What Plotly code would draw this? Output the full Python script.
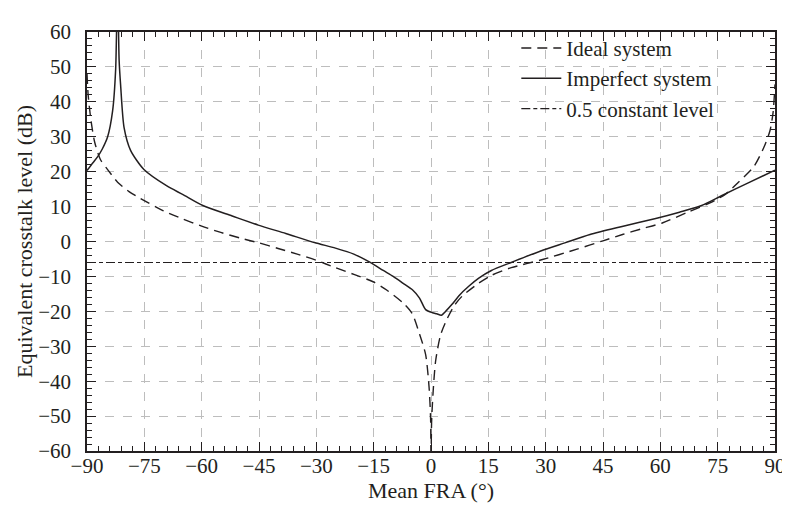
import plotly.graph_objects as go

# Ideal system (dashed)
ideal_x = [-90, -89.7, -89, -88, -86.5, -84.6, -82, -79, -76, -70, -65, -60, -55, -50, -45, -40,
           -35, -30, -25, -20, -15, -11.6, -7.3, -5, -3, -1.4, -0.5, -0.1, 0, 0.15, 0.5, 1.2, 2.5,
           4.2, 6, 8.1, 12.4, 15.8, 21, 28.7, 38.2, 45, 50.1, 55, 60.5, 67.4, 73.3, 77, 80.3, 84.5,
           87.1, 88.7, 89.5, 90]
ideal_y = [48, 42, 35, 28.5, 23.5, 20.6, 17, 14.3, 12.3, 8.8, 6.5, 4.4, 2.6, 1.0, -0.4, -2.0,
           -3.6, -5.4, -7.5, -9.5, -11.6, -13.9, -17.6, -20.5, -26.5, -32.4, -41.8, -51, -65, -52,
           -44, -34.3, -26.8, -22.2, -18.5, -15.7, -12, -9.7, -7.5, -5.3, -2.2, 0.2, 2.0, 3.6, 5.3,
           8.5, 11.2, 13.5, 16.8, 21.5, 27, 31.8, 37, 45]

# Imperfect system (solid)
imp_x = [-90, -88.5, -87.2, -86, -84.6, -83.3, -82.5, -82.0, -81.6, -81.2, -80.3, -78.6, -75.1,
         -69.1, -65, -59.7, -52, -45.2, -38, -30.5, -25, -20.2, -15.9, -12.5, -9.9, -7, -4.8, -3,
         -1.4, 0.4, 1.5, 2.7, 4, 5.5, 7.5, 9.8, 12.5, 15.8, 21, 28.7, 35, 41.6, 50, 58.8, 65, 70.8,
         76, 83, 90]
imp_y = [20.3, 22.5, 24.3, 26.5, 30, 37.4, 49.4, 75, 52, 44.7, 32.6, 26.1, 20.6, 15.9, 13.5, 10.3,
         7.3, 4.7, 2.3, -0.3, -1.9, -3.6, -6, -8.3, -10, -12.2, -13.9, -16.2, -19.5, -20.4, -20.7,
         -21.1, -19.8, -18, -15.3, -12.9, -10.5, -8.3, -6, -2.7, -0.4, 2.0, 4.3, 6.6, 8.4, 10.3,
         13.1, 16.8, 20.4]

# 0.5 constant level (dash-dot), 20*log10(0.5) dB
const_x = [-90, 90]
const_y = [-6.02, -6.02]

x_ticks = [-90, -75, -60, -45, -30, -15, 0, 15, 30, 45, 60, 75, 90]
x_ticktext = ["\u221290", "\u221275", "\u221260", "\u221245", "\u221230", "\u221215",
              "0", "15", "30", "45", "60", "75", "90"]
y_ticks = [-60, -50, -40, -30, -20, -10, 0, 10, 20, 30, 40, 50, 60]
y_ticktext = ["\u221260", "\u221250", "\u221240", "\u221230", "\u221220", "\u221210",
              "0", "10", "20", "30", "40", "50", "60"]

# minor tick positions (every 3 deg / every 2 dB)
x_minor = [v for v in range(-90, 91, 3)]
y_minor = [v for v in range(-60, 61, 2)]

ink = "#231f20"
font_family = "Liberation Serif, Times New Roman, serif"
FS = 21

fig = go.Figure()
fig.add_trace(go.Scatter(x=ideal_x, y=ideal_y, mode="lines", name="Ideal system",
                         legendgroup="a",
                         line=dict(color=ink, width=1.4, dash="10px,6px",
                                   shape="spline", smoothing=0.7)))
fig.add_trace(go.Scatter(x=imp_x, y=imp_y, mode="lines", name="Imperfect system",
                         legendgroup="b",
                         line=dict(color=ink, width=1.5, shape="spline", smoothing=0.7)))
fig.add_trace(go.Scatter(x=const_x, y=const_y, mode="lines", name="0.5 constant level",
                         legendgroup="c",
                         line=dict(color=ink, width=1.2, dash="9px,3px,4px,3px")))

axis_common = dict(
    showline=True, linecolor=ink, linewidth=1.5, mirror="allticks",
    ticks="inside", ticklen=9, tickwidth=1.3, tickcolor=ink,
    showgrid=True, gridcolor="#bdbdbd", griddash="dash", gridwidth=1,
    zeroline=False,
    tickfont=dict(family=font_family, size=FS, color=ink),
)

fig.update_layout(
    width=790, height=510,
    margin=dict(l=79, r=12, t=12, b=67),
    paper_bgcolor="white", plot_bgcolor="white",
    font=dict(family=font_family, size=FS, color=ink),
    showlegend=True,
    legend=dict(x=0.624, y=1.01, xanchor="left", yanchor="top",
                bgcolor="rgba(0,0,0,0)", borderwidth=0,
                tracegroupgap=0, traceorder="grouped", itemwidth=40,
                font=dict(family=font_family, size=FS, color=ink)),
    xaxis=dict(range=[-90, 90], tickmode="array", tickvals=x_ticks, ticktext=x_ticktext,
               ticklabelstandoff=-5,
               title=dict(text="Mean FRA (\u00b0)", standoff=4,
                          font=dict(family=font_family, size=22, color=ink)),
               minor=dict(tickmode="array", tickvals=x_minor, ticks="inside", ticklen=5,
                          tickwidth=1.2, tickcolor=ink, showgrid=False),
               **axis_common),
    yaxis=dict(range=[-60, 60], tickmode="array", tickvals=y_ticks, ticktext=y_ticktext,
               ticklabelstandoff=10,
               title=dict(text="Equivalent crosstalk level (dB)", standoff=0,
                          font=dict(family=font_family, size=22, color=ink)),
               minor=dict(tickmode="array", tickvals=y_minor, ticks="inside", ticklen=5,
                          tickwidth=1.2, tickcolor=ink, showgrid=False),
               **axis_common),
)

fig.write_html("out.html")
